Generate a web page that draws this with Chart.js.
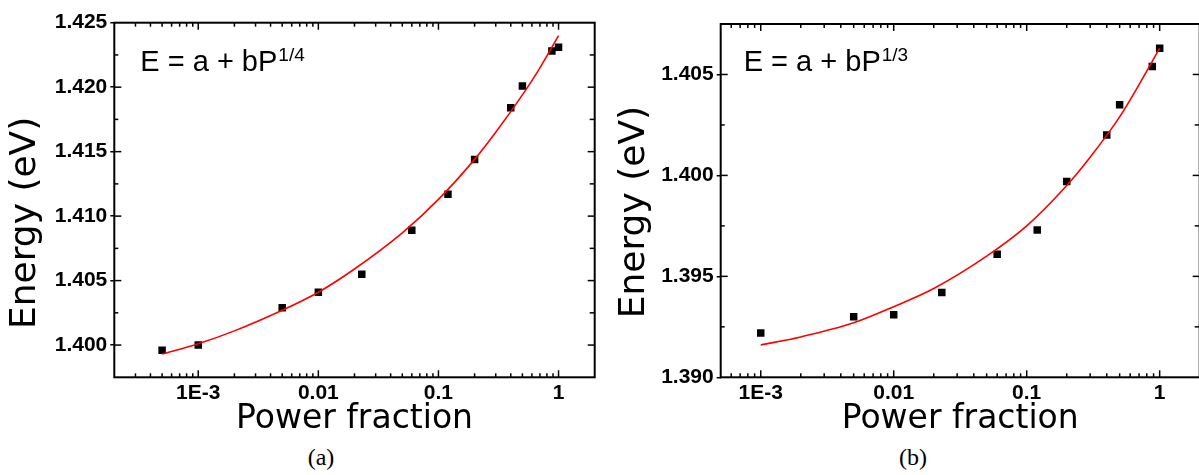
<!DOCTYPE html>
<html>
<head>
<meta charset="utf-8">
<title>Energy vs power fraction</title>
<script src="https://cdn.jsdelivr.net/npm/chart.js@4.4.1/dist/chart.umd.min.js"></script>
<style>
	html, body { margin: 0; padding: 0; background: #fff; overflow: hidden; }
	#wrap { position: relative; width: 1199px; height: 475px; overflow: hidden; background: #fff; }
	canvas { position: absolute; top: 0; }
	#chartA { left: 0; }
	#chartB { left: 600px; }
	.cap { position: absolute; top: 444px; font-family: "Liberation Serif", serif; font-size: 24px; transform: translateX(-50%); color: #000; }
</style>
</head>
<body>
<div id="wrap">
	<canvas id="chartA" width="600" height="440"></canvas>
	<canvas id="chartB" width="605" height="440"></canvas>
	<div class="cap" style="left:321px">(a)</div>
	<div class="cap" style="left:913px">(b)</div>
</div>
<script>
// (a) measured points and fitted curve, E = a + bP^(1/4)
const powerA = [5e-4, 1e-3, 5e-3, 0.01, 0.023, 0.06, 0.12, 0.2, 0.4, 0.5, 0.88, 1];
const energyA = [1.3996, 1.4000, 1.4029, 1.4041, 1.4055, 1.4089, 1.4117, 1.4144, 1.4184, 1.4201, 1.4228, 1.4231];
const fitPowerA = [5e-4, 1e-3, 2e-3, 5e-3, 0.01, 0.02, 0.05, 0.1, 0.2, 0.3, 0.5, 0.7, 1];
const fitEnergyA = [1.3993, 1.4001, 1.4011, 1.4027, 1.4041, 1.4059, 1.4087, 1.4113, 1.4144, 1.4165, 1.4194, 1.4215, 1.4240];
const yTicksA = [1.400, 1.405, 1.410, 1.415, 1.420, 1.425];

// (b) measured points and fitted curve, E = a + bP^(1/3)
const powerB = [1e-3, 5e-3, 0.01, 0.023, 0.06, 0.12, 0.2, 0.4, 0.5, 0.88, 1];
const energyB = [1.3922, 1.3930, 1.3931, 1.3942, 1.3961, 1.3973, 1.3997, 1.4020, 1.4035, 1.4054, 1.4063];
const fitPowerB = [1e-3, 2e-3, 5e-3, 0.01, 0.02, 0.05, 0.1, 0.2, 0.3, 0.5, 0.7, 1];
const fitEnergyB = [1.3916, 1.3920, 1.3927, 1.3935, 1.3944, 1.3960, 1.3975, 1.3995, 1.4009, 1.4029, 1.4045, 1.4063];
const yTicksB = [1.390, 1.395, 1.400, 1.405];

// shared x axis ticks
const xTicks = [1e-3, 0.01, 0.1, 1];
const xLabels = ['1E-3', '0.01', '0.1', '1'];

const tickFont = { family: "'Liberation Sans', Arial", size: 21, weight: 'bold' };
const xTitleFont = { family: "'DejaVu Sans'", size: 33, lineHeight: 1 };
const yTitleFont = { family: "'DejaVu Sans'", size: 36, lineHeight: 1 };

function seg(ctx, x1, y1, x2, y2) {
	ctx.beginPath();
	ctx.moveTo(x1, y1);
	ctx.lineTo(x2, y2);
	ctx.stroke();
}

// box, inward ticks and minor ticks (origin style)
const frame = {
	id: 'frame',
	afterDraw(chart) {
		const { ctx, chartArea: a, scales: { x, y } } = chart;
		ctx.save();
		ctx.strokeStyle = '#000';
		ctx.lineWidth = 1.5;
		// log ticks on bottom and top
		for (let d = Math.floor(Math.log10(x.min)); d <= Math.ceil(Math.log10(x.max)); d++) {
			for (let m = 1; m < 10; m++) {
				const v = m * Math.pow(10, d);
				if (v <= x.min * 1.0001 || v >= x.max * 0.9999) continue;
				const px = x.getPixelForValue(v);
				const len = m === 1 ? 7 : 4;
				seg(ctx, px, a.bottom, px, a.bottom - len);
				seg(ctx, px, a.top, px, a.top + len);
			}
		}
		// y ticks, majors and halfway minors
		const majors = y.ticks.map(t => t.value);
		majors.forEach((v, i) => {
			const py = y.getPixelForValue(v);
			if (v > y.min + 1e-6 && v < y.max - 1e-6) {
				seg(ctx, a.left, py, a.left + 7, py);
				seg(ctx, a.right, py, a.right - 7, py);
			}
			if (i < majors.length - 1) {
				const pm = y.getPixelForValue((v + majors[i + 1]) / 2);
				seg(ctx, a.left, pm, a.left + 4, pm);
				seg(ctx, a.right, pm, a.right - 5, pm);
			}
		});
		const below = majors[0] - (majors[1] - majors[0]) / 2;
		if (below > y.min + 1e-6) {
			const pb = y.getPixelForValue(below);
			seg(ctx, a.left, pb, a.left + 4, pb);
			seg(ctx, a.right, pb, a.right - 5, pb);
		}
		ctx.lineWidth = 2;
		ctx.strokeRect(a.left, a.top, a.right - a.left, a.bottom - a.top);
		ctx.restore();
	}
};

// fit formula written in the corner
const equation = {
	id: 'equation',
	afterDraw(chart, args, opts) {
		const { ctx, chartArea: a } = chart;
		ctx.save();
		ctx.fillStyle = '#000';
		ctx.textBaseline = 'alphabetic';
		ctx.font = "29px 'Liberation Sans', Arial";
		const x0 = a.left + opts.dx, y0 = a.top + opts.dy;
		ctx.fillText(opts.main, x0, y0);
		const w = ctx.measureText(opts.main).width;
		ctx.font = "19px 'Liberation Sans', Arial";
		ctx.fillText(opts.sup, x0 + w + 1, y0 - 10);
		ctx.restore();
	}
};

// the y title sits a bit below the middle of the axis, pad the end with spaces
function makeChart(id, pts, fit, yTicks, yMin, yMax, xMin, axisW, yTitle, titlePad, pad, eq) {
	return new Chart(document.getElementById(id), {
		type: 'scatter',
		data: {
			datasets: [{
				data: fit,
				showLine: true,
				borderColor: 'rgb(255, 0, 0)',
				borderWidth: 1.6,
				pointRadius: 0,
				cubicInterpolationMode: 'monotone'
			}, {
				data: pts,
				pointStyle: 'rect',
				pointRadius: 5.3,
				backgroundColor: '#000',
				borderColor: '#000',
				borderWidth: 0
			}]
		},
		options: {
			responsive: false,
			animation: false,
			layout: { padding: pad },
			plugins: {
				legend: { display: false },
				tooltip: { enabled: false },
				equation: eq
			},
			scales: {
				x: {
					type: 'logarithmic',
					min: xMin,
					max: 2,
					afterBuildTicks: s => { s.ticks = xTicks.map(v => ({ value: v })); },
					afterFit: s => { s.height = 440 - 377.3; },
					grid: { display: false, drawTicks: false },
					border: { display: false },
					ticks: {
						color: '#000',
						font: tickFont,
						padding: 3,
						maxRotation: 0,
						autoSkip: false,
						callback: (v, i) => xLabels[i]
					},
					title: { display: true, text: 'Power fraction', color: '#000', font: xTitleFont, padding: { top: 0, bottom: 4 } }
				},
				y: {
					min: yMin,
					max: yMax,
					afterBuildTicks: s => { s.ticks = yTicks.map(v => ({ value: v })); },
					afterFit: s => { s.width = axisW; },
					grid: { drawOnChartArea: false, drawTicks: true, tickLength: 4, color: '#000', lineWidth: 1.5 },
					border: { display: false },
					ticks: {
						color: '#000',
						font: tickFont,
						padding: 3,
						callback: v => v.toFixed(3)
					},
					title: { display: true, text: yTitle, color: '#000', font: yTitleFont, padding: { top: titlePad, bottom: 0 } }
				}
			}
		},
		plugins: [frame, equation]
	});
}

const ptsA = powerA.map((p, i) => ({ x: p, y: energyA[i] }));
const fitA = fitPowerA.map((p, i) => ({ x: p, y: fitEnergyA[i] }));
const ptsB = powerB.map((p, i) => ({ x: p, y: energyB[i] }));
const fitB = fitPowerB.map((p, i) => ({ x: p, y: fitEnergyB[i] }));

var chartA = makeChart('chartA', ptsA, fitA, yTicksA, 1.3975, 1.425, 2e-4, 114.3, 'Energy (eV)\u00a0\u00a0\u00a0\u00a0', 8,
	{ top: 22.7, right: 4, left: 0, bottom: 0 }, { main: 'E = a + bP', sup: '1/4', dx: 26, dy: 48 });
var chartB = makeChart('chartB', ptsB, fitB, yTicksB, 1.390, 1.4075, 5e-4, 120.7, 'Energy (eV)\u00a0\u00a0', 17,
	{ top: 24, right: 3, left: 0, bottom: 0 }, { main: 'E = a + bP', sup: '1/3', dx: 23, dy: 47 });
</script>
</body>
</html>
